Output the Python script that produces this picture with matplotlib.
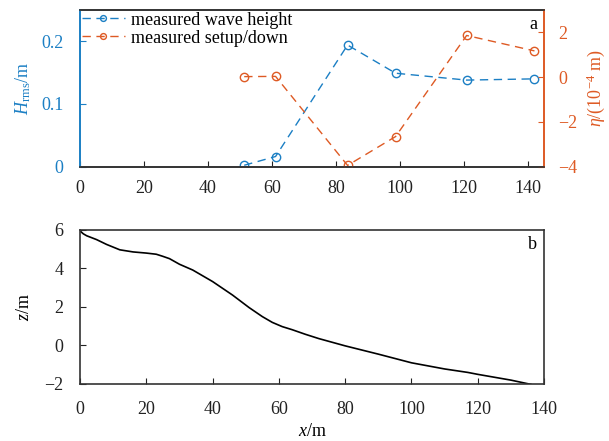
import matplotlib
matplotlib.use("Agg")
import matplotlib.pyplot as plt

plt.rcParams['font.family'] = ['Liberation Serif', 'DejaVu Serif']
plt.rcParams['mathtext.fontset'] = 'custom'
plt.rcParams['mathtext.rm'] = 'Liberation Serif'
plt.rcParams['mathtext.it'] = 'Liberation Serif:italic'

# Data
x_meas = [51.3, 61.1, 83.6, 98.6, 120.8, 142.0]
h_rms = [0.002, 0.016, 0.194, 0.149, 0.138, 0.140]
setup = [0.02, 0.03, -3.95, -2.66, 1.86, 1.17]

x_prof = [0, 1, 2, 5, 8, 12, 16, 20, 23, 25, 27, 30, 34, 40, 46, 51, 55, 58, 61, 64, 68, 72, 80, 90, 100, 110, 117, 120, 125, 130, 136]
z_prof = [5.95, 5.8, 5.7, 5.5, 5.25, 4.97, 4.86, 4.8, 4.74, 4.63, 4.51, 4.22, 3.92, 3.32, 2.62, 1.97, 1.5, 1.2, 0.98, 0.82, 0.58, 0.36, -0.02, -0.45, -0.9, -1.22, -1.4, -1.5, -1.65, -1.8, -2.02]

xticks = [0, 20, 40, 60, 80, 100, 120, 140]

blue = '#1b7fc4'
orange = '#de5a24'
fs = 13

fig = plt.figure(figsize=(6.09, 4.41), dpi=100)
ax1 = fig.add_axes([0.1314, 0.6224, 0.762, 0.355])
ax2 = ax1.twinx()

l1, = ax1.plot(x_meas, h_rms, ls=(0, (6, 4)), color=blue, lw=1.0, marker='o',
               ms=6, mfc='none', mec=blue, mew=1.0, label='measured wave height')
l2, = ax2.plot(x_meas, setup, ls=(0, (6, 4)), color=orange, lw=1.0, marker='o',
               ms=6, mfc='none', mec=orange, mew=1.0, label='measured setup/down')

ax1.set_xlim(0, 145)
ax1.set_ylim(0, 0.25)
ax2.set_ylim(-4, 3)
ax1.set_xticks(xticks)
ax1.set_yticks([0, 0.1, 0.2])
ax1.set_yticklabels(['0', '0.1', '0.2'])
ax2.set_yticks([-4, -2, 0, 2])
ax2.set_yticklabels(['\u22124', '\u22122', '0', '2'])

ax1.tick_params(axis='x', direction='in', length=4, labelsize=fs, colors='#222222', pad=10, top=False)
ax1.tick_params(axis='y', direction='in', length=4, labelsize=fs, colors=blue, labelcolor=blue, pad=12)
ax2.tick_params(axis='y', direction='in', length=4, labelsize=fs, colors=orange, labelcolor=orange, pad=10)

for ax in (ax1, ax2):
    ax.spines['left'].set_color(blue)
    ax.spines['right'].set_color(orange)
    ax.spines['top'].set_color('#333333')
    ax.spines['bottom'].set_color('#333333')
    for s in ax.spines.values():
        s.set_linewidth(1.2)

ax1.set_ylabel(r'$H_{\mathrm{rms}}$/m', color=blue, fontsize=fs, labelpad=6)
ax2.set_ylabel(r'$\eta$/(10$^{-4}$ m)', color=orange, fontsize=fs, labelpad=5)

ax1.legend(handles=[l1, l2], loc='upper left', frameon=False, fontsize=fs,
           handlelength=2.4, handletextpad=0.3, borderaxespad=0.0,
           borderpad=0.1, labelspacing=0.05, markerscale=0.7)
ax1.text(0.985, 0.96, 'a', transform=ax1.transAxes, ha='right', va='top', fontsize=fs)

ax3 = fig.add_axes([0.1314, 0.1293, 0.762, 0.3492])
ax3.plot(x_prof, z_prof, color='black', lw=1.2)
ax3.set_xlim(0, 140)
ax3.set_ylim(-2, 6)
ax3.set_xticks(xticks)
ax3.set_yticks([-2, 0, 2, 4, 6])
ax3.set_yticklabels(['\u22122', '0', '2', '4', '6'])
ax3.tick_params(direction='in', length=4, labelsize=fs, colors='#222222', pad=12)
for s in ax3.spines.values():
    s.set_color('#333333')
    s.set_linewidth(1.2)
ax3.set_xlabel(r'$x$/m', fontsize=fs, labelpad=4)
ax3.set_ylabel(r'$z$/m', fontsize=fs, labelpad=8)
ax3.text(0.985, 0.96, 'b', transform=ax3.transAxes, ha='right', va='top', fontsize=fs)

fig.savefig('out.png', dpi=100)
